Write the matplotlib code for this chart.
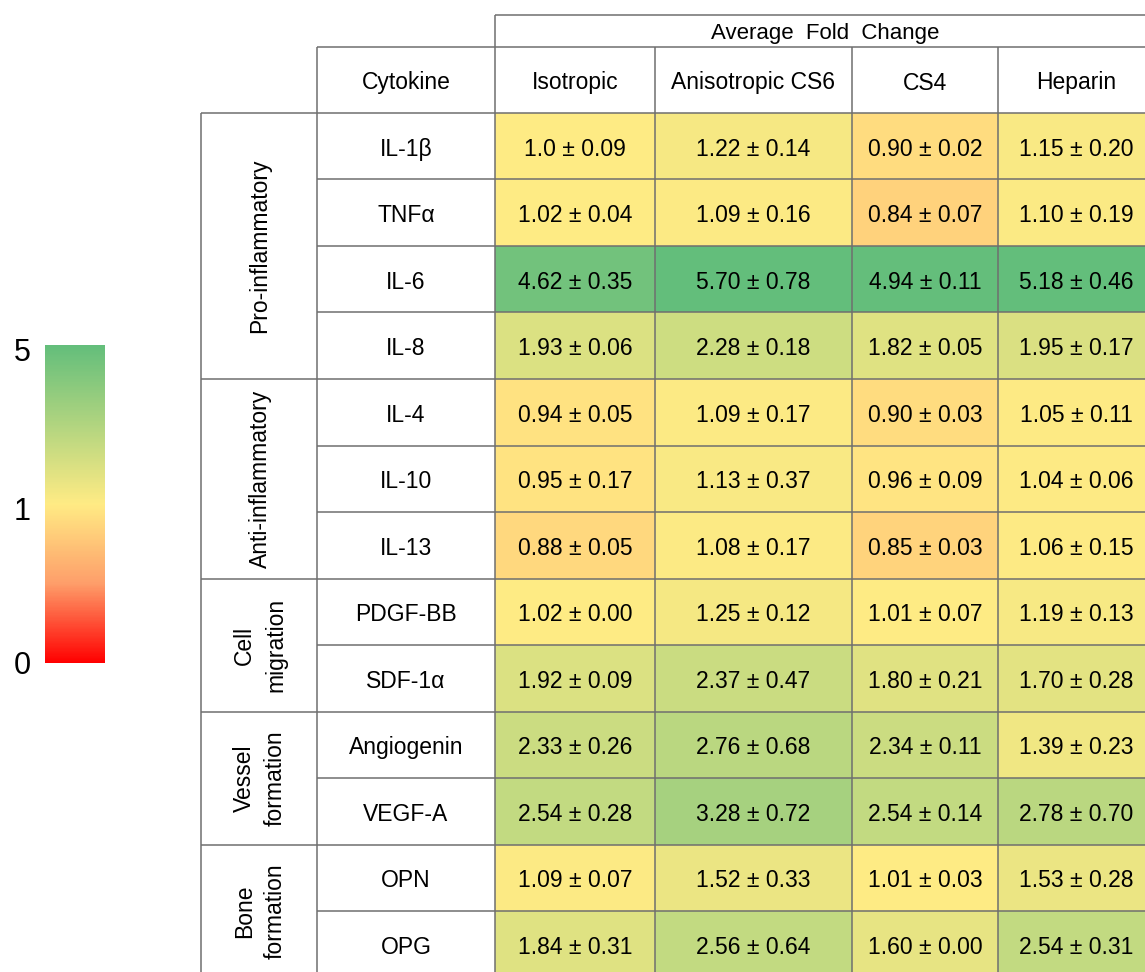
import matplotlib
matplotlib.use("Agg")
import matplotlib.pyplot as plt
import numpy as np
from matplotlib.colors import LinearSegmentedColormap, TwoSlopeNorm
from matplotlib.cm import ScalarMappable

plt.rcParams['font.family'] = ['Liberation Sans', 'DejaVu Sans']

# -------------
# Data
# -------------
conditions = ["Isotropic", "Anisotropic CS6", "CS4", "Heparin"]
cytokines = ["IL-1β", "TNFα", "IL-6", "IL-8", "IL-4", "IL-10", "IL-13",
             "PDGF-BB", "SDF-1α", "Angiogenin", "VEGF-A", "OPN", "OPG"]
groups = ["Pro-inflammatory", "Anti-inflammatory", "Cell\nmigration",
          "Vessel\nformation", "Bone\nformation"]
group_sizes = [4, 3, 2, 2, 2]

iso_mean = ["1.0", "1.02", "4.62", "1.93", "0.94", "0.95", "0.88",
            "1.02", "1.92", "2.33", "2.54", "1.09", "1.84"]
iso_sd = ["0.09", "0.04", "0.35", "0.06", "0.05", "0.17", "0.05",
          "0.00", "0.09", "0.26", "0.28", "0.07", "0.31"]
cs6_mean = ["1.22", "1.09", "5.70", "2.28", "1.09", "1.13", "1.08",
            "1.25", "2.37", "2.76", "3.28", "1.52", "2.56"]
cs6_sd = ["0.14", "0.16", "0.78", "0.18", "0.17", "0.37", "0.17",
          "0.12", "0.47", "0.68", "0.72", "0.33", "0.64"]
cs4_mean = ["0.90", "0.84", "4.94", "1.82", "0.90", "0.96", "0.85",
            "1.01", "1.80", "2.34", "2.54", "1.01", "1.60"]
cs4_sd = ["0.02", "0.07", "0.11", "0.05", "0.03", "0.09", "0.03",
          "0.07", "0.21", "0.11", "0.14", "0.03", "0.00"]
hep_mean = ["1.15", "1.10", "5.18", "1.95", "1.05", "1.04", "1.06",
            "1.19", "1.70", "1.39", "2.78", "1.53", "2.54"]
hep_sd = ["0.20", "0.19", "0.46", "0.17", "0.11", "0.06", "0.15",
          "0.13", "0.28", "0.23", "0.70", "0.28", "0.31"]

cbar_ticks = [0, 1, 5]

means = [iso_mean, cs6_mean, cs4_mean, hep_mean]
sds = [iso_sd, cs6_sd, cs4_sd, hep_sd]
values = np.array([[float(m) for m in col] for col in means]).T

# -------------
# Layout (pixels)
# -------------
col_edges = [495, 655, 852, 998, 1160]
col_centers = [575, 753, 925, 1076]
x_group = (201, 317)
x_cyto = (317, 495)
y_top, y_head, y_rows = 15, 47, 113
row_h = 66.5
y_edges = y_rows + row_h * np.arange(len(cytokines) + 1)
y_end = 990
line_c = "#6f6f6f"
lw = 1.1
fs = 16.5
dy = 3  # text baseline nudge

cmap = LinearSegmentedColormap.from_list(
    "fold", [(0.0, "#FF0000"), (0.25, "#FE9E6A"), (0.5, "#FFEB84"), (1.0, "#63BE7B")])
norm = TwoSlopeNorm(vmin=0, vcenter=1, vmax=5)

fig = plt.figure(figsize=(11.45, 9.72), dpi=100)
ax = fig.add_axes([0, 0, 1, 1])
ax.set_xlim(0, 1145)
ax.set_ylim(972, 0)
ax.axis("off")

# coloured cells
ax.pcolormesh(col_edges, y_edges, np.clip(values, 0, 5), cmap=cmap, norm=norm)

# grid lines
ax.hlines(y_top, col_edges[0], col_edges[-1], color=line_c, lw=lw)
ax.hlines(y_head, x_cyto[0], col_edges[-1], color=line_c, lw=lw)
ax.hlines(y_edges, x_cyto[0], col_edges[-1], color=line_c, lw=lw)
bounds = y_rows + row_h * np.concatenate([[0], np.cumsum(group_sizes)])
ax.hlines(bounds, x_group[0], x_cyto[0], color=line_c, lw=lw)
ax.vlines(x_group[0], y_rows, y_end, color=line_c, lw=lw)
ax.vlines(x_cyto[0], y_head, y_end, color=line_c, lw=lw)
ax.vlines(col_edges[0], y_top, y_end, color=line_c, lw=lw)
ax.vlines(col_edges[1:4], y_head, y_end, color=line_c, lw=lw)

# header text
ax.text(825, (y_top + y_head) / 2 + dy, "Average  Fold  Change", ha="center", va="center", fontsize=16)
ax.text(sum(x_cyto) / 2, (y_head + y_rows) / 2 + dy, "Cytokine", ha="center", va="center", fontsize=fs)
for j, name in enumerate(conditions):
    ax.text(col_centers[j], (y_head + y_rows) / 2 + dy, name, ha="center", va="center", fontsize=fs)

# rows
for i, name in enumerate(cytokines):
    yc = y_rows + row_h * (i + 0.5) + dy
    ax.text(sum(x_cyto) / 2, yc, name, ha="center", va="center", fontsize=fs)
    for j in range(4):
        ax.text(col_centers[j], yc, f"{means[j][i]} ± {sds[j][i]}",
                ha="center", va="center", fontsize=fs)

# group labels
for k, g in enumerate(groups):
    yc = (bounds[k] + bounds[k + 1]) / 2
    ax.text(260, yc, g, rotation=90, ha="center", va="center",
            multialignment="center", fontsize=fs, linespacing=1.45)

# colour bar
cax = fig.add_axes([45 / 1145, 309 / 972, 60 / 1145, 318 / 972])
cb = fig.colorbar(ScalarMappable(norm=norm, cmap=cmap), cax=cax)
cb.outline.set_visible(False)
cb.set_ticks([])
label_pos = [-0.01, 0.475, 0.975]
for t, p in zip(cbar_ticks, label_pos):
    cax.text(-0.38, p, str(t), transform=cax.transAxes, ha="center", va="center", fontsize=22)

fig.savefig("out.png", dpi=100)
